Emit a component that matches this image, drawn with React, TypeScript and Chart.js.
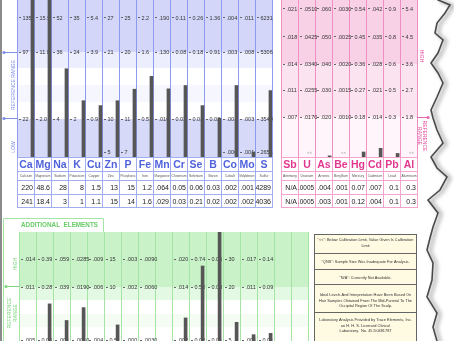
import React, { useEffect, useRef } from "react";
import { Chart, registerables } from "chart.js";

Chart.register(...registerables);

const W = 454;
const H = 341;
const FONT = "Arial, 'Liberation Sans', sans-serif";

// ---------------- Nutrient elements (blue panel) ----------------
const nutrientSymbols = ["Ca", "Mg", "Na", "K", "Cu", "Zn", "P", "Fe", "Mn", "Cr", "Se", "B", "Co", "Mo", "S"];
const nutrientNames = ["Calcium", "Magnesium", "Sodium", "Potassium", "Copper", "Zinc", "Phosphorus", "Iron", "Manganese", "Chromium", "Selenium", "Boron", "Cobalt", "Molybdenum", "Sulfur"];
const nutrientResults = ["220", "48.6", "28", "8", "1.5", "13", "15", "1.2", ".064", "0.05", "0.06", "0.03", ".002", ".001", "4289"];
const nutrientPrevious = ["241", "18.4", "3", "1", "1.1", "15", "14", "1.6", ".029", "0.03", "0.21", "0.02", ".002", ".002", "4036"];
const nutrientTicks = [
  ["135", "97", "22"],
  ["15.5", "11.0", "2.0"],
  ["52", "36", "4"],
  ["35", "24", "2"],
  ["5.4", "3.9", "0.9"],
  ["27", "21", "10", "5"],
  ["25", "20", "11", "7"],
  ["2.2", "1.6", "0.5"],
  [".190", ".130", ".010"],
  ["0.11", "0.08", "0.02"],
  ["0.26", "0.18", "0.03"],
  ["1.36", "0.91", "0.02"],
  [".004", ".003", ".001", ".000"],
  [".011", ".008", ".003", ".001"],
  ["6231", "5306", "3540", "2651"],
];

// ---------------- Toxic elements (pink panel) ----------------
const toxicSymbols = ["Sb", "U", "As", "Be", "Hg", "Cd", "Pb", "Al"];
const toxicNames = ["Antimony", "Uranium", "Arsenic", "Beryllium", "Mercury", "Cadmium", "Lead", "Aluminum"];
const toxicResults = ["N/A", ".0005", ".004", ".001", "0.07", ".007", "0.1", "0.3"];
const toxicPrevious = ["N/A", ".0005", ".003", ".001", "0.12", ".004", "0.1", "0.3"];
const toxicBelowLimit = [false, true, false, true, false, false, false, true];
const toxicTicks = [
  [".021", ".018", ".014", ".011", ".007"],
  [".0510", ".0425", ".0340", ".0255", ".0170"],
  [".060", ".050", ".040", ".030", ".020"],
  [".0030", ".0025", ".0020", ".0015", ".0010"],
  ["0.54", "0.45", "0.36", "0.27", "0.18"],
  [".042", ".035", ".028", ".021", ".014"],
  ["0.9", "0.8", "0.6", "0.5", "0.3"],
  ["5.4", "4.5", "3.6", "2.7", "1.8"],
];

// ---------------- Additional elements (green panel) ----------------
const additionalTicks = [
  [".014", ".011", ".005"],
  ["0.39", "0.28", "0.06"],
  [".059", ".039", ".001"],
  [".0285", ".0190", ".0010"],
  [".009", ".006", ".004"],
  ["15", "10", "0.5"],
  [".003", ".002", ".000"],
  [".0090", ".0060", ".0030"],
  [],
  [".020", ".014", ".002"],
  ["0.74", "0.50", "0.02"],
  ["0.05", "0.03", "0.01"],
  ["30", "20", "5"],
  [".017", ".011", ".001"],
  ["0.14", "0.09", "0.01"],
  [],
  [],
];
const additionalResults = [null, 0.21, 0.015, 0.012, null, 3.2, null, null, null, 0.007, 0.68, 0.09, 10, 0.002, 0.02, null, null];

const noteRows = [
  ['"<<": Below Calibration Limit, Value Given Is Calibration', "Limit"],
  ['"QNS": Sample Size Was Inadequate For Analysis.'],
  ['"N/A": Currently Not Available.'],
  ["Ideal Levels And Interpretation Have Been Based On", "Hair Samples Obtained From The Mid-Parietal To The", "Occipital Region Of The Scalp."],
  ["Laboratory Analysis Provided by Trace Elements, Inc.", "an H. H. S. Licensed Clinical", "Laboratory.  No. 45 D0481787"],
];

// scale levels (chart units) at which each element's tick values sit
const BLUE_LEVELS = [139, 105, 38, 5];
const PINK_LEVELS = [148, 120, 93, 67, 40];
const GREEN_LEVELS = [82, 54, 1];

const toNum = (s: any) => {
  if (s == null) return null;
  const v = typeof s === "number" ? s : parseFloat(s);
  return Number.isFinite(v) ? v : null;
};

function toLevel(v: number, t: number[], lv: number[], lowPow?: number) {
  const n = t.length;
  if (v >= t[0]) {
    const slope = (lv[0] - lv[1]) / (t[0] - t[1]);
    return lv[0] + (v - t[0]) * slope;
  }
  for (let i = 0; i < n - 1; i++) {
    if (v >= t[i + 1]) {
      return lv[i + 1] + ((v - t[i + 1]) / (t[i] - t[i + 1])) * (lv[i] - lv[i + 1]);
    }
  }
  if (lowPow) return lv[n - 1] * Math.pow(Math.max(v, 0) / t[n - 1], lowPow);
  const slope = (lv[n - 2] - lv[n - 1]) / (t[n - 2] - t[n - 1]);
  return Math.max(0, lv[n - 1] - (t[n - 1] - v) * slope);
}

function points(values: any[], ticks: string[][], levels: number[], offset: number, lowPow?: number, skip?: boolean[]) {
  return values.map((raw, i) => {
    const v = toNum(raw);
    const t = ticks[i].map((s) => parseFloat(s));
    if (v == null || (skip && skip[i]) || t.length < 2) return { x: i + offset, y: null };
    return { x: i + offset, y: toLevel(v, t, levels, lowPow) };
  });
}

type Spec = {
  id: string;
  area: { left: number; right: number; top: number; bottom: number };
  cols: number;
  maxU: number;
  levels: number[];
  ticks: string[][];
  bands: [number, number, string][];
  lineColor: string;
  lineTop: number;
  lineBottom: number;
  before?: (ctx: CanvasRenderingContext2D, chart: any) => void;
  after?: (ctx: CanvasRenderingContext2D, chart: any) => void;
};

function drawPanel(chart: any, spec: Spec) {
  const ctx = chart.ctx as CanvasRenderingContext2D;
  const xs = chart.scales.x;
  const ys = chart.scales.y;
  const { left, right } = chart.chartArea;
  ctx.save();
  for (const [u0, u1, color] of spec.bands) {
    const y0 = ys.getPixelForValue(u0);
    const y1 = ys.getPixelForValue(u1);
    ctx.fillStyle = color;
    ctx.fillRect(left, y0, right - left, y1 - y0);
  }
  ctx.strokeStyle = spec.lineColor;
  ctx.lineWidth = 1;
  for (let i = 0; i <= spec.cols; i++) {
    const x = Math.round(xs.getPixelForValue(i)) + 0.5;
    ctx.beginPath();
    ctx.moveTo(x, spec.lineTop);
    ctx.lineTo(x, spec.lineBottom);
    ctx.stroke();
  }
  ctx.font = `5.5px ${FONT}`;
  ctx.textBaseline = "middle";
  ctx.textAlign = "left";
  spec.ticks.forEach((labels, i) => {
    const x0 = xs.getPixelForValue(i);
    labels.forEach((lab, k) => {
      const y = ys.getPixelForValue(spec.levels[k]);
      ctx.fillStyle = "#666";
      ctx.fillRect(Math.round(x0) + 2, Math.floor(y), 2, 1);
      ctx.fillStyle = "#333";
      ctx.fillText(lab, x0 + 5.5, y + 0.5);
    });
  });
  ctx.restore();
}

function rotText(ctx: CanvasRenderingContext2D, text: string, x: number, y: number, angle: number) {
  ctx.save();
  ctx.translate(x, y);
  ctx.rotate(angle);
  ctx.textAlign = "center";
  ctx.textBaseline = "middle";
  ctx.fillText(text, 0, 0);
  ctx.restore();
}

function marker(ctx: CanvasRenderingContext2D, x0: number, x1: number, y: number, dotX: number, color: string) {
  ctx.strokeStyle = color;
  ctx.fillStyle = color;
  ctx.lineWidth = 1;
  ctx.beginPath();
  ctx.moveTo(x0, y + 0.5);
  ctx.lineTo(x1, y + 0.5);
  ctx.stroke();
  ctx.beginPath();
  ctx.arc(dotX, y + 0.5, 1.6, 0, Math.PI * 2);
  ctx.fill();
}

function drawTable(
  ctx: CanvasRenderingContext2D,
  chart: any,
  cols: number,
  symbols: string[],
  names: string[],
  r1: string[],
  r2: string[],
  lineColor: string,
  symColor: string
) {
  const xs = chart.scales.x;
  const x0 = Math.round(xs.getPixelForValue(0)) + 0.5;
  const x1 = Math.round(xs.getPixelForValue(cols)) + 0.5;
  ctx.save();
  ctx.fillStyle = "#ffffff";
  ctx.fillRect(x0, 157, x1 - x0, 51);
  ctx.strokeStyle = lineColor;
  ctx.lineWidth = 1;
  for (const y of [157.5, 171.5, 180.5, 194.5, 207.5]) {
    ctx.beginPath();
    ctx.moveTo(x0, y);
    ctx.lineTo(x1, y);
    ctx.stroke();
  }
  for (let i = 0; i <= cols; i++) {
    const x = Math.round(xs.getPixelForValue(i)) + 0.5;
    ctx.beginPath();
    ctx.moveTo(x, 157);
    ctx.lineTo(x, 208);
    ctx.stroke();
  }
  for (let i = 0; i < cols; i++) {
    const l = xs.getPixelForValue(i);
    const r = xs.getPixelForValue(i + 1);
    const c = (l + r) / 2;
    ctx.textBaseline = "middle";
    ctx.textAlign = "center";
    ctx.fillStyle = symColor;
    ctx.font = `bold 10.5px ${FONT}`;
    ctx.fillText(symbols[i], c + 0.5, 165);
    ctx.fillStyle = "#555";
    ctx.font = `3.4px ${FONT}`;
    ctx.fillText(names[i], c + 0.5, 176.5, r - l - 2);
    ctx.fillStyle = "#222";
    ctx.font = `7px ${FONT}`;
    ctx.textAlign = "right";
    ctx.fillText(r1[i], r - 1, 188.5, r - l - 1);
    ctx.fillText(r2[i], r - 1, 202, r - l - 1);
  }
  ctx.restore();
}

const TORN = [
  [438, 0], [450, 5], [445, 13], [437, 23], [435, 33], [443, 40], [438, 53], [431, 63], [438, 73], [443, 83],
  [437, 97], [431, 110], [433, 118], [437, 130], [443, 143], [431, 157], [437, 168], [447, 177], [440, 190],
  [428, 200], [438, 213], [433, 227], [430, 238], [427, 250], [433, 263], [432, 280], [427, 297], [437, 313],
  [433, 327], [437, 341],
];

function drawTorn(ctx: CanvasRenderingContext2D) {
  ctx.save();
  ctx.beginPath();
  ctx.moveTo(TORN[0][0], -2);
  TORN.forEach(([x, y]) => ctx.lineTo(x, y));
  ctx.lineTo(x0safe(TORN[TORN.length - 1][0]), H + 2);
  ctx.lineTo(W + 2, H + 2);
  ctx.lineTo(W + 2, -2);
  ctx.closePath();
  ctx.fillStyle = "#ffffff";
  ctx.fill();
  ctx.beginPath();
  ctx.moveTo(TORN[0][0], -2);
  TORN.forEach(([x, y]) => ctx.lineTo(x, y));
  ctx.lineTo(TORN[TORN.length - 1][0], H + 2);
  ctx.shadowColor = "rgba(0,0,0,0.6)";
  ctx.shadowBlur = 4;
  ctx.shadowOffsetX = 3;
  ctx.shadowOffsetY = 1;
  ctx.strokeStyle = "#4a4a4a";
  ctx.lineWidth = 1.6;
  ctx.lineJoin = "miter";
  ctx.stroke();
  ctx.restore();
}
function x0safe(x: number) {
  return x;
}

function drawNotes(ctx: CanvasRenderingContext2D) {
  ctx.save();
  const l = 314.5, r = 416.5, t = 234.5;
  ctx.fillStyle = "#fffbe3";
  ctx.fillRect(l, t, r - l, H - t + 5);
  ctx.strokeStyle = "#666";
  ctx.lineWidth = 1;
  ctx.strokeRect(l, t, r - l, H - t + 5);
  for (const y of [253.5, 269.5, 284.5, 312.5]) {
    ctx.beginPath();
    ctx.moveTo(l, y);
    ctx.lineTo(r, y);
    ctx.stroke();
  }
  const ys = [[240, 245.5], [262], [277.5], [295, 300.5, 306], [320, 325.5, 331]];
  ctx.fillStyle = "#333";
  ctx.font = `3.9px ${FONT}`;
  ctx.textAlign = "center";
  ctx.textBaseline = "middle";
  noteRows.forEach((lines, i) => {
    lines.forEach((s, k) => ctx.fillText(s, (l + r) / 2, ys[i][k], 96));
  });
  ctx.restore();
}

function buildChart(canvas: HTMLCanvasElement, spec: Spec, data: any[]) {
  const plugin = {
    id: "panel_" + spec.id,
    beforeDraw(chart: any) {
      if (spec.before) spec.before(chart.ctx, chart);
    },
    beforeDatasetsDraw(chart: any) {
      drawPanel(chart, spec);
    },
    afterDraw(chart: any) {
      if (spec.after) spec.after(chart.ctx, chart);
    },
  };
  return new Chart(canvas, {
    type: "bar",
    data: {
      datasets: [
        {
          data,
          backgroundColor: "#565656",
          borderWidth: 0,
          barThickness: 3,
          clip: 0,
        } as any,
      ],
    },
    options: {
      responsive: false,
      animation: false,
      devicePixelRatio: 1,
      events: [],
      layout: {
        padding: {
          left: spec.area.left,
          right: W - spec.area.right,
          top: spec.area.top,
          bottom: H - spec.area.bottom,
        },
      },
      plugins: { legend: { display: false }, tooltip: { enabled: false }, title: { display: false } },
      scales: {
        x: { type: "linear", min: 0, max: spec.cols, display: false, offset: false, grid: { offset: false } },
        y: { type: "linear", min: 0, max: spec.maxU, display: false },
      },
    } as any,
    plugins: [plugin],
  });
}

export default function App() {
  const blueRef = useRef<HTMLCanvasElement>(null);
  const pinkRef = useRef<HTMLCanvasElement>(null);
  const greenRef = useRef<HTMLCanvasElement>(null);

  useEffect(() => {
    const BLUE_TEXT = "#7585e6";
    const PINK_TEXT = "#e4489c";
    const GREEN_TEXT = "#74d274";

    const blueSpec: Spec = {
      id: "blue",
      area: { left: 17, right: 272, top: 0, bottom: 157 },
      cols: 15,
      maxU: 157,
      levels: BLUE_LEVELS,
      ticks: nutrientTicks,
      bands: [
        [157, 105, "#d3d6f8"],
        [105, 89, "#eceefd"],
        [89, 72, "#ffffff"],
        [72, 55, "#f6f7fe"],
        [55, 38, "#ffffff"],
        [38, 0, "#d6d9f8"],
      ],
      lineColor: "#8c9bee",
      lineTop: 0,
      lineBottom: 208,
      before: (ctx) => {
        ctx.save();
        ctx.fillStyle = "#ffffff";
        ctx.fillRect(0, 0, W, H);
        ctx.fillStyle = "#8a8a8a";
        ctx.fillRect(0, 0, 2, H);
        ctx.restore();
      },
      after: (ctx, chart) => {
        drawTable(ctx, chart, 15, nutrientSymbols, nutrientNames, nutrientResults, nutrientPrevious, "#a2adf0", "#5063dc");
        ctx.save();
        ctx.fillStyle = BLUE_TEXT;
        ctx.font = `5px ${FONT}`;
        rotText(ctx, "REFERENCE RANGE", 13.5, 85, -Math.PI / 2);
        rotText(ctx, "LOW", 13.5, 147, -Math.PI / 2);
        marker(ctx, 3, 17, 52, 4, "#7f8ee9");
        marker(ctx, 3, 17, 118, 4, "#7f8ee9");
        ctx.restore();
      },
    };

    const pinkSpec: Spec = {
      id: "pink",
      area: { left: 281, right: 417, top: 0, bottom: 157 },
      cols: 8,
      maxU: 157,
      levels: PINK_LEVELS,
      ticks: toxicTicks,
      bands: [
        [157, 93, "#f9d1e7"],
        [93, 40, "#fce3f0"],
        [40, 0, "#fff5fa"],
      ],
      lineColor: "#ef8fc2",
      lineTop: 0,
      lineBottom: 208,
      after: (ctx, chart) => {
        drawTable(ctx, chart, 8, toxicSymbols, toxicNames, toxicResults, toxicPrevious, "#f3a5cf", "#e2378f");
        const xs = chart.scales.x;
        ctx.save();
        ctx.fillStyle = "#888";
        ctx.font = `4px ${FONT}`;
        ctx.textAlign = "right";
        ctx.textBaseline = "middle";
        toxicBelowLimit.forEach((b, i) => {
          if (b) ctx.fillText("<<", xs.getPixelForValue(i + 1) - 3, 153);
        });
        ctx.fillStyle = PINK_TEXT;
        ctx.font = `5px ${FONT}`;
        rotText(ctx, "HIGH", 421.5, 56, Math.PI / 2);
        rotText(ctx, "REFERENCE", 424.5, 136, Math.PI / 2);
        rotText(ctx, "RANGE", 419, 136, Math.PI / 2);
        marker(ctx, 417, 428, 117, 428, "#e86aae");
        ctx.restore();
      },
    };

    const greenSpec: Spec = {
      id: "green",
      area: { left: 19, right: 308, top: 232, bottom: 341 },
      cols: 17,
      maxU: 109,
      levels: GREEN_LEVELS,
      ticks: additionalTicks,
      bands: [
        [109, 54, "#c9f2c9"],
        [54, 41, "#e3f9e3"],
        [41, 27, "#ffffff"],
        [27, 14, "#f4fcf4"],
        [14, 0, "#ffffff"],
      ],
      lineColor: "#a4e4a4",
      lineTop: 232,
      lineBottom: H,
      before: (ctx) => {
        ctx.save();
        ctx.strokeStyle = "#a4e4a4";
        ctx.lineWidth = 1;
        ctx.beginPath();
        ctx.moveTo(3.5, H);
        ctx.lineTo(3.5, 218.5);
        ctx.lineTo(103.5, 218.5);
        ctx.lineTo(103.5, 232.5);
        ctx.moveTo(19, 232.5);
        ctx.lineTo(308, 232.5);
        ctx.stroke();
        ctx.fillStyle = "#66cc66";
        ctx.font = `bold 7.2px ${FONT}`;
        ctx.textAlign = "left";
        ctx.textBaseline = "middle";
        ctx.fillText("ADDITIONAL  ELEMENTS", 21, 225.5, 77);
        ctx.fillStyle = GREEN_TEXT;
        ctx.font = `5px ${FONT}`;
        rotText(ctx, "HIGH", 15.5, 264, -Math.PI / 2);
        rotText(ctx, "REFERENCE", 9.5, 313, -Math.PI / 2);
        rotText(ctx, "RANGE", 16, 313, -Math.PI / 2);
        marker(ctx, 5, 19, 286, 6, "#7fd67f");
        ctx.restore();
      },
      after: (ctx) => {
        drawNotes(ctx);
        drawTorn(ctx);
      },
    };

    const charts = [
      buildChart(blueRef.current!, blueSpec, points(nutrientResults, nutrientTicks, BLUE_LEVELS, 0.91)),
      buildChart(pinkRef.current!, pinkSpec, points(toxicResults, toxicTicks, PINK_LEVELS, 0.86, 2.2, toxicBelowLimit)),
      buildChart(greenRef.current!, greenSpec, points(additionalResults, additionalTicks, GREEN_LEVELS, 0.8)),
    ];
    return () => charts.forEach((c) => c.destroy());
  }, []);

  const cs: React.CSSProperties = { position: "absolute", left: 0, top: 0, width: W, height: H };
  return (
    <div style={{ position: "fixed", left: 0, top: 0, width: W, height: H, overflow: "hidden", background: "#fff" }}>
      <canvas ref={blueRef} width={W} height={H} style={cs} />
      <canvas ref={pinkRef} width={W} height={H} style={cs} />
      <canvas ref={greenRef} width={W} height={H} style={cs} />
    </div>
  );
}
